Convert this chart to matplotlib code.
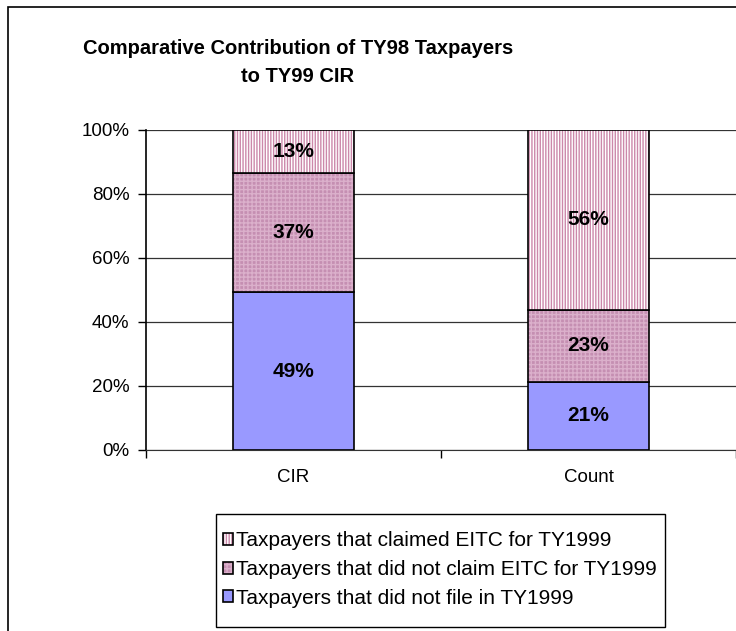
import matplotlib

matplotlib.use("Agg")

import matplotlib.pyplot as plt
import matplotlib.patches as mpatches
from matplotlib.colors import to_rgba
import numpy as np

# --- Data ---
categories = ['CIR', 'Count']
not_filed = [49.3, 21.3]
no_claim = [37.3, 22.6]
claimed = [13.4, 56.1]
series_labels = ['Taxpayers that did not file in TY1999',
                 'Taxpayers that did not claim EITC for TY1999',
                 'Taxpayers that claimed EITC for TY1999']

plt.rcParams['font.family'] = ['Liberation Sans', 'DejaVu Sans']
plt.rcParams['hatch.linewidth'] = 1.0

FS_TITLE = 14.5
FS_TICK = 13.5
FS_LEGEND = 15
FS_BARLABEL = 15

BLUE = '#9999ff'
MAUVE = '#c58fb2'
MAUVE_HATCH = '#dbb0cb'
STRIPE = '#cc88aa'


def set_hatch_color(patch, color):
    # hatch colour follows edgecolor in mpl 3.10, so override it after creation
    patch._hatch_color = to_rgba(color)


W, H = 736, 631
fig = plt.figure(figsize=(W / 100, H / 100), dpi=100)
ax = fig.add_axes([146 / W, 1 - 450 / H, 590 / W, 320 / H])

# outer chart border (cropped on the right and bottom in the reference)
fig.patches.append(mpatches.Rectangle((8 / W, -0.1), 1.2, 1.1 - 7 / H,
                                      transform=fig.transFigure, fill=False,
                                      edgecolor='black', linewidth=1.2, zorder=0))

x = np.arange(len(categories))
width = 0.41

b1 = ax.bar(x, not_filed, width, color=BLUE, edgecolor='black', linewidth=1.2, zorder=3)
b2 = ax.bar(x, no_claim, width, bottom=not_filed, color=MAUVE, edgecolor='black',
            linewidth=1.2, hatch='++++', zorder=3)
bottom3 = np.array(not_filed) + np.array(no_claim)
b3 = ax.bar(x, claimed, width, bottom=bottom3, color='white', edgecolor='black',
            linewidth=1.2, hatch='||||||', zorder=3)
for p in b2:
    set_hatch_color(p, MAUVE_HATCH)
for p in b3:
    set_hatch_color(p, STRIPE)

# value labels
for bars, vals, bots in [(b1, not_filed, np.zeros(2)), (b2, no_claim, np.array(not_filed)),
                         (b3, claimed, bottom3)]:
    for i, v in enumerate(vals):
        ax.text(x[i], bots[i] + v / 2, f'{round(v):d}%', ha='center', va='center',
                fontsize=FS_BARLABEL, fontweight='bold', zorder=4)

ax.set_xlim(-0.5, 1.5)
ax.set_ylim(0, 100)
ax.set_yticks(np.arange(0, 101, 20))
ax.set_yticklabels([f'{t}%' for t in range(0, 101, 20)], fontsize=FS_TICK)
ax.set_xticks(x)
ax.set_xticklabels(categories, fontsize=FS_TICK)
ax.set_xticks([-0.5, 0.5, 1.5], minor=True)
ax.tick_params(axis='x', which='major', length=0, pad=14)
ax.tick_params(axis='x', which='minor', length=6, direction='out', width=1)
ax.tick_params(axis='y', length=6, direction='out', width=1, pad=6)

ax.grid(True, axis='y', color='#333333', linewidth=0.9, zorder=0)
ax.set_axisbelow(True)
for s in ['top', 'right']:
    ax.spines[s].set_visible(False)
ax.spines['left'].set_linewidth(1.2)
ax.spines['bottom'].set_color('#333333')

fig.text(298 / W, 1 - 62 / H, 'Comparative Contribution of TY98 Taxpayers\nto TY99 CIR',
         ha='center', va='center', fontsize=FS_TITLE, fontweight='bold', linespacing=1.6)

# legend (claimed on top); frame drawn separately so its padding can differ per side
handles = [b3[0], b2[0], b1[0]]
leg = fig.legend(handles, series_labels[::-1], loc='center',
                 bbox_to_anchor=(440 / W, 1 - 569.5 / H), fontsize=FS_LEGEND,
                 frameon=False, handlelength=0.5, handleheight=0.5,
                 handletextpad=0.15, labelspacing=0.47, borderpad=0.2, borderaxespad=0)
for h, c in zip(leg.legend_handles, [STRIPE, MAUVE_HATCH, None]):
    if c is not None:
        set_hatch_color(h, c)
fig.patches.append(mpatches.Rectangle((216 / W, 1 - 627 / H), 449 / W, 113 / H,
                                      transform=fig.transFigure, fill=False,
                                      edgecolor='black', linewidth=1.0))

fig.savefig('out.png', dpi=100)
